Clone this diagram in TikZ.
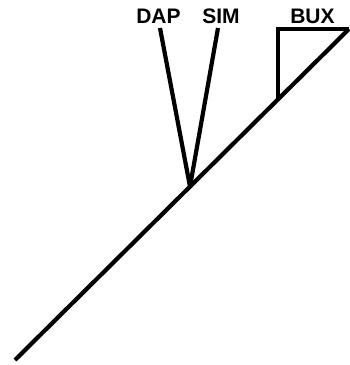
\documentclass[tikz,border=0pt]{standalone}
\usepackage{fontspec}
\setmainfont{Liberation Sans}
\begin{document}
\begin{tikzpicture}[x=1pt,y=-1pt,
  branch/.style={line width=4.2pt,line cap=butt,line join=miter},
  lab/.style={font=\fontsize{21}{21}\selectfont\bfseries,inner sep=0pt,anchor=base}]
\useasboundingbox (0,0) rectangle (350,365);
\coordinate (root) at (15,360);
\coordinate (top) at (349,29);
\coordinate (j) at (190,186.6);
\coordinate (bj) at (278,99.4);
\coordinate (dapt) at (160,28);
\coordinate (simt) at (218,28);
\coordinate (bc) at (278,29);
\draw[branch] (root) -- (top);
\draw[branch,line join=round] (dapt) -- (j) -- (simt);
\draw[branch] (bj) -- (bc) -- (top);
\node[lab] (dap) at (158.5,23) {DAP};
\node[lab] (sim) at (221,23) {SIM};
\node[lab] (bux) at (312.5,23) {BUX};
\end{tikzpicture}
\end{document}
